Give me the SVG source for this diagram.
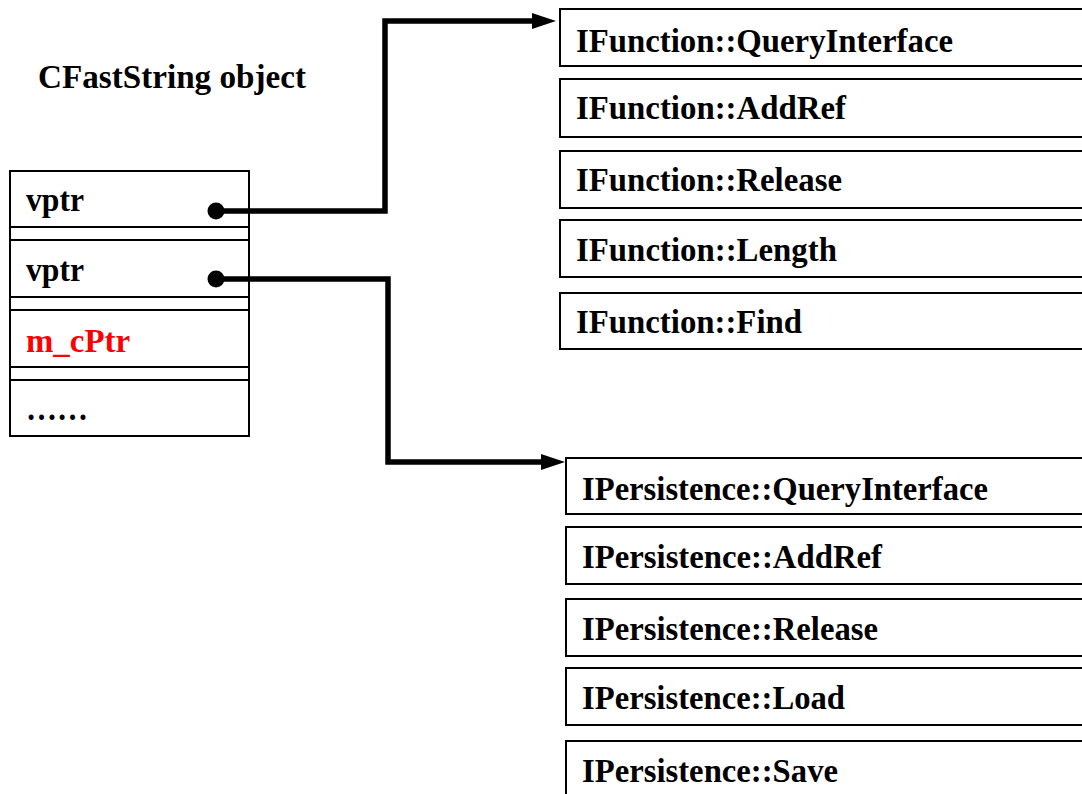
<svg xmlns="http://www.w3.org/2000/svg" width="1082" height="794" viewBox="0 0 1082 794">
<defs>
<style>
text{font-family:'Liberation Serif','Times New Roman','DejaVu Serif',serif;font-weight:700;font-size:33px;fill:#000}
.red{fill:#ff0000}
.box{fill:#fff;stroke:#000;stroke-width:2}
.sep{stroke:#000;stroke-width:2}
.conn{fill:none;stroke:#000;stroke-width:5.5;stroke-linejoin:miter}
</style>
<marker id="arr" markerUnits="userSpaceOnUse" markerWidth="30" markerHeight="20" viewBox="0 -10 30 20" refX="0" refY="0" orient="auto" overflow="visible">
<path d="M0,-8 L24,0 L0,8 z" fill="#000"/>
</marker>
</defs>
<rect width="1082" height="794" fill="#fff"/>

<g id="title"><text x="38" y="88" textLength="268" lengthAdjust="spacingAndGlyphs">CFastString object</text></g>

<g id="cfaststring">
<rect class="box" x="10" y="171" width="239" height="265"/>
<line class="sep" x1="10" y1="227" x2="249" y2="227"/>
<line class="sep" x1="10" y1="240" x2="249" y2="240"/>
<line class="sep" x1="10" y1="297" x2="249" y2="297"/>
<line class="sep" x1="10" y1="310" x2="249" y2="310"/>
<line class="sep" x1="10" y1="367" x2="249" y2="367"/>
<line class="sep" x1="10" y1="380" x2="249" y2="380"/>
<text x="26" y="211" textLength="58" lengthAdjust="spacingAndGlyphs">vptr</text>
<text x="26" y="281" textLength="58" lengthAdjust="spacingAndGlyphs">vptr</text>
<text class="red" x="26" y="352" textLength="104" lengthAdjust="spacingAndGlyphs">m_cPtr</text>
<text x="26" y="420" textLength="62" lengthAdjust="spacingAndGlyphs">……</text>
</g>

<g id="connectors">
<circle cx="216" cy="211" r="8.5" fill="#000"/>
<circle cx="216" cy="279" r="8.5" fill="#000"/>
<path class="conn" d="M216,211 H385 V21 H532" marker-end="url(#arr)"/>
<path class="conn" d="M216,279 H388 V462 H541" marker-end="url(#arr)"/>
</g>

<g id="ifunction">
<g id="if-qi"><rect class="box" x="560" y="9" width="540" height="57"/><text x="576" y="52" textLength="377" lengthAdjust="spacingAndGlyphs">IFunction::QueryInterface</text></g>
<g id="if-addref"><rect class="box" x="560" y="79" width="540" height="58"/><text x="576" y="119" textLength="270" lengthAdjust="spacingAndGlyphs">IFunction::AddRef</text></g>
<g id="if-release"><rect class="box" x="560" y="151" width="540" height="57"/><text x="576" y="191" textLength="266" lengthAdjust="spacingAndGlyphs">IFunction::Release</text></g>
<g id="if-length"><rect class="box" x="560" y="220" width="540" height="57"/><text x="576" y="261" textLength="261" lengthAdjust="spacingAndGlyphs">IFunction::Length</text></g>
<g id="if-find"><rect class="box" x="560" y="293" width="540" height="56"/><text x="576" y="333" textLength="226" lengthAdjust="spacingAndGlyphs">IFunction::Find</text></g>
</g>

<g id="ipersistence">
<g id="ip-qi"><rect class="box" x="566" y="458" width="540" height="56"/><text x="582" y="500" textLength="406" lengthAdjust="spacingAndGlyphs">IPersistence::QueryInterface</text></g>
<g id="ip-addref"><rect class="box" x="566" y="527" width="540" height="57"/><text x="582" y="568" textLength="300" lengthAdjust="spacingAndGlyphs">IPersistence::AddRef</text></g>
<g id="ip-release"><rect class="box" x="566" y="599" width="540" height="57"/><text x="582" y="640" textLength="296" lengthAdjust="spacingAndGlyphs">IPersistence::Release</text></g>
<g id="ip-load"><rect class="box" x="566" y="668" width="540" height="57"/><text x="582" y="709" textLength="263" lengthAdjust="spacingAndGlyphs">IPersistence::Load</text></g>
<g id="ip-save"><rect class="box" x="566" y="741" width="540" height="70"/><text x="582" y="782" textLength="256" lengthAdjust="spacingAndGlyphs">IPersistence::Save</text></g>
</g>
</svg>
